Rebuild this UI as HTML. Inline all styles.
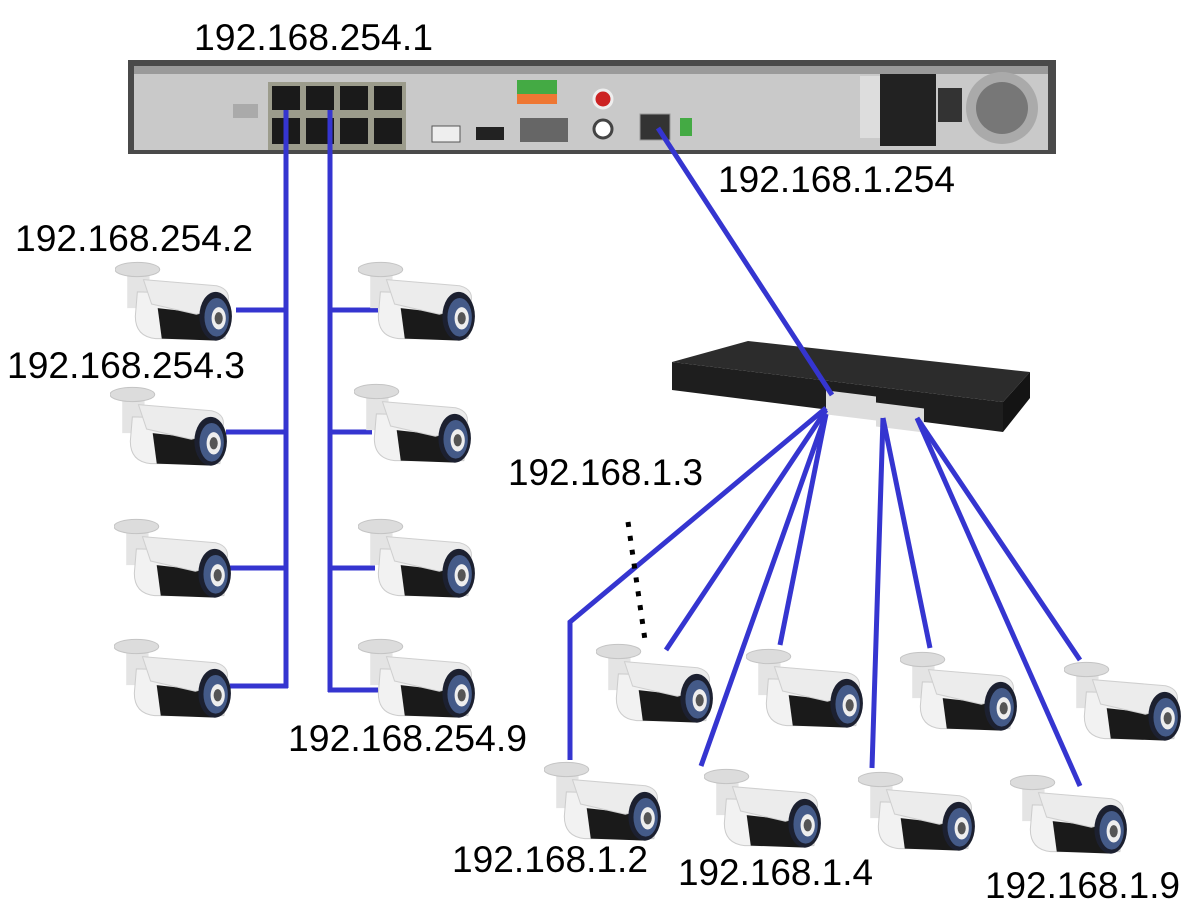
<!DOCTYPE html>
<html><head><style>
html,body{margin:0;padding:0;background:#fff;}
svg{display:block}
text{font-family:"Liberation Sans",Arial,sans-serif;font-size:37px;fill:#000}
</style></head><body>
<svg width="1200" height="921" viewBox="0 0 1200 921" xmlns="http://www.w3.org/2000/svg">
<defs>
<symbol id="cam" viewBox="0 0 120 90">
  <rect x="12" y="18" width="22" height="34" fill="#e4e4e4"/>
  <ellipse cx="22" cy="14" rx="22" ry="7" fill="#dcdcdc" stroke="#c4c4c4"/>
  <path d="M22 36 L98 38 Q115 40 112 60 L108 82 L40 82 Q20 80 20 60 Z" fill="#f2f2f2" stroke="#ccc"/>
  <path d="M42 52 L95 58 L100 84 L46 82 Z" fill="#1a1a1a"/>
  <path d="M28 24 L100 30 Q116 34 110 50 L80 58 L36 48 Z" fill="#ececec" stroke="#cfcfcf"/>
  <ellipse cx="99" cy="60" rx="16" ry="24" fill="#1c2030"/>
  <ellipse cx="100" cy="61" rx="12" ry="19" fill="#445a88"/>
  <ellipse cx="102" cy="62" rx="7" ry="11" fill="#eee"/>
  <ellipse cx="102" cy="62" rx="4" ry="6" fill="#555"/>
</symbol>
</defs>

<!-- NVR -->
<rect x="128" y="60" width="928" height="94" fill="#4a4a4a"/>
<rect x="134" y="66" width="914" height="84" fill="#c9c9c9"/>
<rect x="134" y="66" width="914" height="8" fill="#9a9a9a"/>
<rect x="268" y="82" width="138" height="68" fill="#9c9c8c"/>
<g fill="#1a1a1a">
<rect x="272" y="86" width="28" height="24"/><rect x="306" y="86" width="28" height="24"/><rect x="340" y="86" width="28" height="24"/><rect x="374" y="86" width="28" height="24"/>
<rect x="272" y="118" width="28" height="26"/><rect x="306" y="118" width="28" height="26"/><rect x="340" y="118" width="28" height="26"/><rect x="374" y="118" width="28" height="26"/>
</g>
<rect x="233" y="104" width="25" height="14" fill="#aaa"/>
<rect x="432" y="126" width="28" height="16" fill="#eee" stroke="#555"/>
<rect x="476" y="127" width="28" height="13" fill="#222"/>
<rect x="520" y="118" width="48" height="24" fill="#666"/>
<rect x="517" y="80" width="40" height="14" fill="#4a4"/>
<rect x="517" y="94" width="40" height="10" fill="#e73"/>
<circle cx="603" cy="99" r="9" fill="#c22" stroke="#eee" stroke-width="3"/>
<circle cx="603" cy="129" r="9" fill="#fff" stroke="#444" stroke-width="3"/>
<rect x="640" y="114" width="30" height="26" fill="#333" stroke="#999"/>
<rect x="680" y="118" width="12" height="18" fill="#4a4"/>
<rect x="860" y="76" width="22" height="62" fill="#ddd"/>
<rect x="880" y="74" width="56" height="72" fill="#222"/>
<rect x="938" y="88" width="24" height="34" fill="#333"/>
<circle cx="1002" cy="108" r="36" fill="#aaa"/>
<circle cx="1002" cy="108" r="26" fill="#777"/>

<!-- Switch -->
<polygon points="672,362 748,341 1030,372 1003,402" fill="#2c2c2c"/>
<polygon points="672,362 1003,402 1003,432 672,390" fill="#1e1e1e"/>
<polygon points="1003,402 1030,372 1030,398 1003,432" fill="#141414"/>
<rect x="826" y="390" width="50" height="24" fill="#ddd" transform="skewY(7) translate(0,-101)"/>
<rect x="876" y="396" width="48" height="24" fill="#ddd" transform="skewY(7) translate(0,-101)"/>

<!-- lines -->
<g stroke="#3535d0" stroke-width="5" fill="none">
<line x1="286" y1="110" x2="286" y2="688"/>
<line x1="330" y1="110" x2="330" y2="692"/>
<line x1="236" y1="310" x2="286" y2="310"/>
<line x1="226" y1="432" x2="286" y2="432"/>
<line x1="230" y1="568" x2="286" y2="568"/>
<line x1="230" y1="686" x2="288" y2="686"/>
<line x1="330" y1="310" x2="378" y2="310"/>
<line x1="330" y1="432" x2="372" y2="432"/>
<line x1="330" y1="568" x2="375" y2="568"/>
<line x1="328" y1="690" x2="378" y2="690"/>
<line x1="658" y1="128" x2="832" y2="395"/>
<polyline points="826,408 570,622 570,760"/>
<line x1="826" y1="410" x2="666" y2="650"/>
<line x1="826" y1="414" x2="780" y2="645"/>
<line x1="826" y1="414" x2="701" y2="766"/>
<line x1="883" y1="418" x2="872" y2="768"/>
<line x1="883" y1="418" x2="930" y2="648"/>
<line x1="917" y1="418" x2="1080" y2="660"/>
<line x1="917" y1="418" x2="1080" y2="786"/>
</g>
<line x1="628" y1="522" x2="645" y2="640" stroke="#000" stroke-width="5" stroke-dasharray="5,9"/>

<!-- cameras -->
<use href="#cam" x="115" y="255" width="122" height="92"/>
<use href="#cam" x="110" y="380" width="122" height="92"/>
<use href="#cam" x="114" y="512" width="122" height="92"/>
<use href="#cam" x="114" y="632" width="122" height="92"/>
<use href="#cam" x="358" y="255" width="122" height="92"/>
<use href="#cam" x="354" y="377" width="122" height="92"/>
<use href="#cam" x="358" y="512" width="122" height="92"/>
<use href="#cam" x="358" y="632" width="122" height="92"/>
<use href="#cam" x="596" y="637" width="122" height="92"/>
<use href="#cam" x="746" y="642" width="122" height="92"/>
<use href="#cam" x="900" y="645" width="122" height="92"/>
<use href="#cam" x="1064" y="655" width="122" height="92"/>
<use href="#cam" x="544" y="755" width="122" height="92"/>
<use href="#cam" x="704" y="762" width="122" height="92"/>
<use href="#cam" x="858" y="765" width="122" height="92"/>
<use href="#cam" x="1010" y="768" width="122" height="92"/>

<!-- labels -->
<text x="194" y="50" textLength="239" lengthAdjust="spacingAndGlyphs">192.168.254.1</text>
<text x="718" y="192" textLength="237" lengthAdjust="spacingAndGlyphs">192.168.1.254</text>
<text x="15" y="251" textLength="238" lengthAdjust="spacingAndGlyphs">192.168.254.2</text>
<text x="7" y="378" textLength="238" lengthAdjust="spacingAndGlyphs">192.168.254.3</text>
<text x="508" y="485" textLength="195" lengthAdjust="spacingAndGlyphs">192.168.1.3</text>
<text x="288" y="751" textLength="239" lengthAdjust="spacingAndGlyphs">192.168.254.9</text>
<text x="452" y="872" textLength="196" lengthAdjust="spacingAndGlyphs">192.168.1.2</text>
<text x="678" y="885" textLength="195" lengthAdjust="spacingAndGlyphs">192.168.1.4</text>
<text x="985" y="898" textLength="195" lengthAdjust="spacingAndGlyphs">192.168.1.9</text>
</svg>
</body></html>
